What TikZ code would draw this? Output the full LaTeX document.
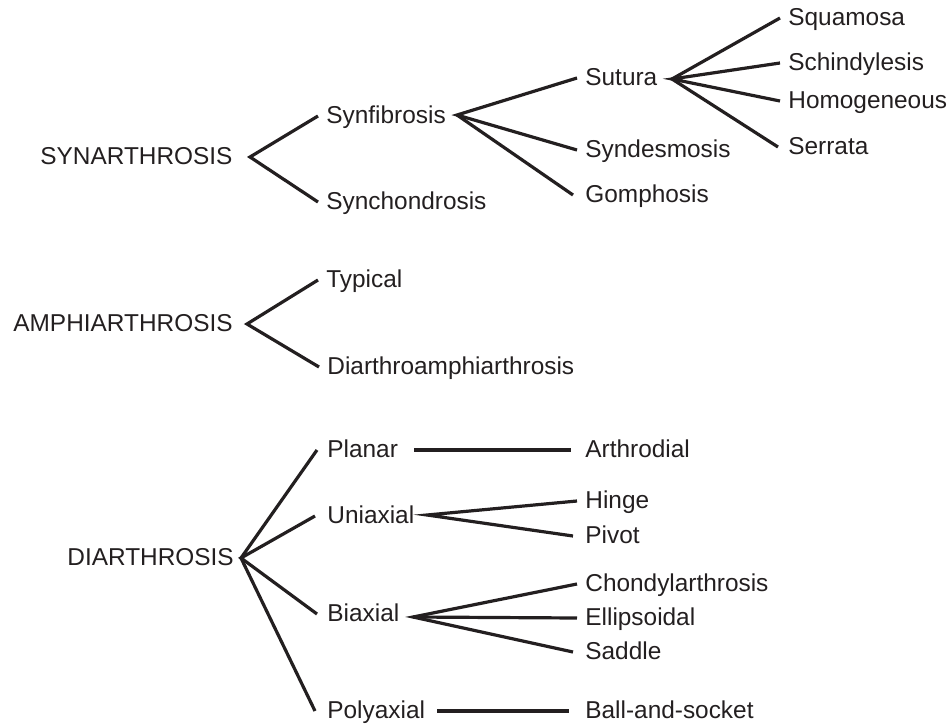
\documentclass[tikz,border=0pt]{standalone}
\usepackage{fontspec}
\setmainfont{Liberation Sans}
\definecolor{ink}{HTML}{231F20}
\begin{document}
\begin{tikzpicture}[x=0.5pt,y=-0.5pt,
  lbl/.style={anchor=west,inner sep=0pt,text height=0.716em,text depth=0pt,
    font=\fontsize{12.2}{14.6}\selectfont,text=ink},
  conn/.style={draw=ink,line width=1.6pt}]
\useasboundingbox (0,0) rectangle (950,724);
% level 0
\node[lbl] (syn) at (40,157) {SYNARTHROSIS};
\node[lbl] (amp) at (13,324) {AMPHIARTHROSIS};
\node[lbl] (dia) at (67,558) {DIARTHROSIS};
% synarthrosis branch
\node[lbl] (synf) at (326,116) {Synfibrosis};
\node[lbl] (sync) at (326,202) {Synchondrosis};
\node[lbl] (sut) at (585,78) {Sutura};
\node[lbl] (synd) at (585,150) {Syndesmosis};
\node[lbl] (gom) at (585,195) {Gomphosis};
\node[lbl] (squ) at (788,18) {Squamosa};
\node[lbl] (sch) at (788,63) {Schindylesis};
\node[lbl] (hom) at (788,101) {Homogeneous};
\node[lbl] (ser) at (788,147) {Serrata};
% amphiarthrosis branch
\node[lbl] (typ) at (326,280) {Typical};
\node[lbl] (dam) at (327,367) {Diarthroamphiarthrosis};
% diarthrosis branch
\node[lbl] (pla) at (327,450) {Planar};
\node[lbl] (uni) at (327,516) {Uniaxial};
\node[lbl] (bia) at (327,614) {Biaxial};
\node[lbl] (pol) at (327,711) {Polyaxial};
\node[lbl] (art) at (585,450) {Arthrodial};
\node[lbl] (hin) at (585,501) {Hinge};
\node[lbl] (piv) at (585,536) {Pivot};
\node[lbl] (cho) at (585,584) {Chondylarthrosis};
\node[lbl] (ell) at (585,618) {Ellipsoidal};
\node[lbl] (sad) at (585,652) {Saddle};
\node[lbl] (bal) at (585,711) {Ball-and-socket};
% vertices
\coordinate (vsyn) at (250,157);
\coordinate (vsynf) at (457,115);
\coordinate (vsut) at (672,79);
\coordinate (vamp) at (247,324);
\coordinate (vdia) at (241,558);
\coordinate (vuni) at (427,515);
\coordinate (vbia) at (413,617);
% connectors (shifts in pt; 1pt = 2px)
\draw[conn] ([xshift=-4pt]synf.west) -- (vsyn) -- ([xshift=-4pt]sync.west);
\draw[conn] ([xshift=-4pt]sut.west) -- (vsynf) -- ([xshift=-4pt]synd.west);
\draw[conn] (vsynf) -- ([xshift=-6pt]gom.west);
\draw[conn] ([xshift=-4pt]squ.west) -- (vsut) -- ([xshift=-5pt]ser.west);
\draw[conn] ([xshift=-4pt]sch.west) -- (vsut) -- ([xshift=-4pt]hom.west);
\draw[conn] ([xshift=-4pt]typ.west) -- (vamp) -- ([xshift=-4pt]dam.west);
\draw[conn] ([xshift=-5pt]pla.west) -- (vdia) -- ([xshift=-6pt]pol.west);
\draw[conn] ([xshift=-6pt]uni.west) -- (vdia) -- ([xshift=-5pt]bia.west);
\draw[conn] ([xshift=8pt]pla.east) -- ([xshift=-7pt]art.west);
\draw[conn] ([xshift=-4pt]hin.west) -- (vuni) -- ([xshift=-6pt]piv.west);
\draw[conn] ([xshift=-4pt]cho.west) -- (vbia) -- ([xshift=-6pt]sad.west);
\draw[conn] (vbia) -- ([xshift=-4pt]ell.west);
\draw[conn] ([xshift=6pt]pol.east) -- ([xshift=-8pt]bal.west);
\end{tikzpicture}
\end{document}
